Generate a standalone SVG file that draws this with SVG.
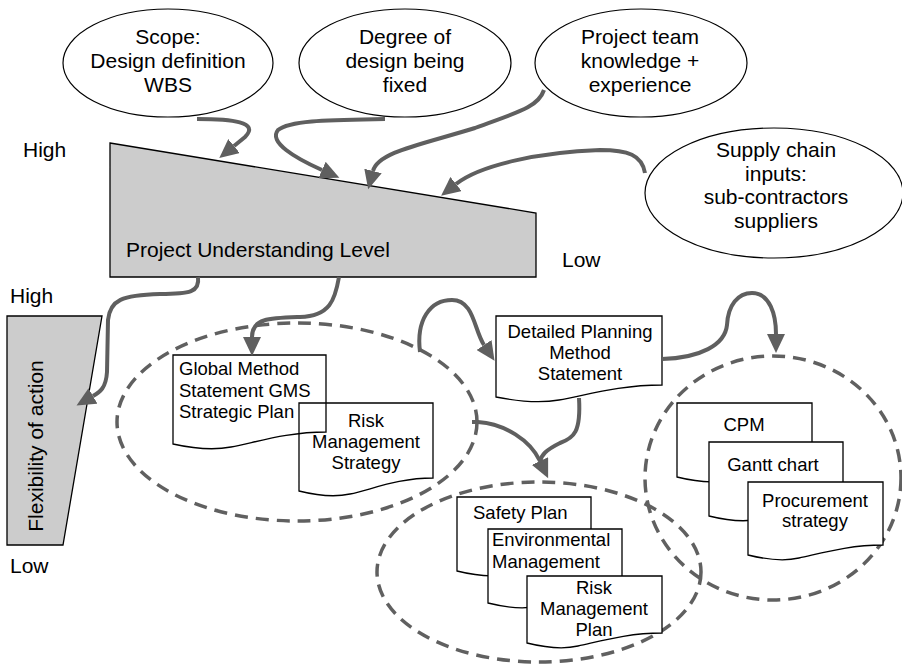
<svg xmlns="http://www.w3.org/2000/svg" width="902" height="664" viewBox="0 0 902 664">
<style>
text{font-family:"Liberation Sans",Arial,sans-serif;fill:#000}
.big{font-size:21px}
.doc{font-size:18.5px}
.mid{text-anchor:middle}
.oval{fill:#fff;stroke:#000;stroke-width:1.2}
.shape{fill:#cccccc;stroke:#000;stroke-width:1.3}
.dash{fill:none;stroke:#606060;stroke-width:3.5;stroke-dasharray:13 8}
.d{fill:#fff;stroke:#000;stroke-width:1.3}
.dn{fill:none;stroke:#000;stroke-width:1.3}
.c{fill:none;stroke:#5f5f5f;stroke-width:4}
</style>
<defs>
<marker id="ah" markerUnits="userSpaceOnUse" markerWidth="20" markerHeight="18" refX="0" refY="9" orient="auto" viewBox="0 0 20 18">
<path d="M0,0 L19,9 L0,18 Z" fill="#5f5f5f"/>
</marker>
</defs>
<rect width="902" height="664" fill="#fff"/>

<g id="scope"><ellipse class="oval" cx="168" cy="63" rx="105" ry="54"/>
<text class="big mid" x="168" y="44">Scope:</text><text class="big mid" x="168" y="68">Design definition</text><text class="big mid" x="168" y="92">WBS</text></g>
<g id="degree"><ellipse class="oval" cx="405" cy="63" rx="106" ry="54"/>
<text class="big mid" x="405" y="44">Degree of</text><text class="big mid" x="405" y="68">design being</text><text class="big mid" x="405" y="92">fixed</text></g>
<g id="team"><ellipse class="oval" cx="641" cy="63" rx="106" ry="54"/>
<text class="big mid" x="640" y="44">Project team</text><text class="big mid" x="640" y="68">knowledge +</text><text class="big mid" x="640" y="92">experience</text></g>
<g id="supply"><ellipse class="oval" cx="774" cy="193" rx="129" ry="65"/>
<text class="big mid" x="776" y="157">Supply chain</text><text class="big mid" x="776" y="181">inputs:</text><text class="big mid" x="776" y="204">sub-contractors</text><text class="big mid" x="776" y="228">suppliers</text></g>

<g id="understanding"><polygon class="shape" points="110,143 536,213 536,277 110,277"/>
<text class="big" x="126" y="257">Project Understanding Level</text></g>
<text class="big" x="23" y="157">High</text>
<text class="big" x="562" y="267">Low</text>

<g id="flexibility"><polygon class="shape" points="7,316 102,316 63,545 7,545"/>
<text class="big mid" transform="translate(43,446) rotate(-90)" x="0" y="0">Flexibility of action</text></g>
<text class="big" x="10" y="303">High</text>
<text class="big" x="10" y="573">Low</text>

<g id="groups">
<ellipse class="dash" cx="297" cy="422" rx="180" ry="99"/>
<ellipse class="dash" cx="539" cy="572" rx="162" ry="90"/>
<ellipse class="dash" cx="773" cy="478" rx="128" ry="122"/>
</g>

<g id="gms"><path class="dn" d="M173,355 H326 V432 C288,432 257,442 231,447 C211,451 191,448 173,444 Z"/>
<text class="doc" x="179" y="375">Global Method</text><text class="doc" x="179" y="397">Statement GMS</text><text class="doc" x="179" y="418">Strategic Plan</text></g>
<g id="riskstrategy"><path class="dn" d="M299,403 H433 V478 C399,478 373,489 350,494 C332,498 315,495 299,491 Z"/>
<text class="doc mid" x="366" y="427">Risk</text><text class="doc mid" x="366" y="448">Management</text><text class="doc mid" x="366" y="469">Strategy</text></g>
<g id="detailed"><path class="d" d="M496,316 H662 V385 C620,385 587,395 559,400 C537,404 516,401 496,397 Z"/>
<text class="doc mid" x="580" y="338">Detailed Planning</text><text class="doc mid" x="580" y="359">Method</text><text class="doc mid" x="580" y="380">Statement</text></g>
<g id="cpm"><path class="d" d="M677,403 H812 V465 C778,465 751,475 728,480 C711,484 693,481 677,477 Z"/>
<text class="doc mid" x="744" y="431">CPM</text></g>
<g id="gantt"><path class="d" d="M709,442 H843 V504 C809,504 783,514 760,519 C742,523 725,520 709,516 Z"/>
<text class="doc mid" x="773" y="471">Gantt chart</text></g>
<g id="procurement"><path class="d" d="M748,482 H883 V545 C849,545 822,553 799,558 C782,562 764,559 748,555 Z"/>
<text class="doc mid" x="815" y="507">Procurement</text><text class="doc mid" x="815" y="527">strategy</text></g>
<g id="safety"><path class="d" d="M457,497 H591 V559 C557,559 531,569 508,574 C491,578 473,575 457,571 Z"/>
<text class="doc" x="473" y="519">Safety Plan</text></g>
<g id="environmental"><path class="d" d="M488,529 H622 V591 C588,591 562,601 539,606 C522,610 504,607 488,603 Z"/>
<text class="doc" x="492" y="546">Environmental</text><text class="doc" x="492" y="568">Management</text></g>
<g id="riskplan"><path class="d" d="M527,576 H662 V633 C628,633 601,641 578,646 C561,650 543,647 527,643 Z"/>
<text class="doc mid" x="594" y="594">Risk</text><text class="doc mid" x="594" y="615">Management</text><text class="doc mid" x="594" y="636">Plan</text></g>

<g id="connectors">
<path class="c" marker-end="url(#ah)" d="M197,119 C232,119 260,122 245,137 L234,146"/>
<path class="c" marker-end="url(#ah)" d="M385,119 C330,120 290,120 278,130 C268,142 295,158 322,170"/>
<path class="c" marker-end="url(#ah)" d="M544,90 C538,108 515,113 475,128 C420,145 378,152 373,171"/>
<path class="c" marker-end="url(#ah)" d="M645,173 C642,155 628,150 600,150 C540,152 480,165 456,184"/>
<path class="c" marker-end="url(#ah)" d="M198,277 C200,292 190,294 160,294 C122,295 110,300 108,320 L107,372 C106,388 100,392 93,396"/>
<path class="c" marker-end="url(#ah)" d="M339,277 C335,300 330,316 300,317 C270,318 252,318 252,337"/>
<path class="c" marker-end="url(#ah)" d="M420,352 C416,320 430,300 452,300 C474,300 474,330 484,345"/>
<path class="c" marker-end="url(#ah)" d="M472,422 L478,422 C505,424 530,440 540,461"/>
<path class="c" d="M579,398 C581,432 574,438 560,443 C546,450 541,455 540,462"/>
<path class="c" marker-end="url(#ah)" d="M662,359 C700,358 725,345 727,325 C728,305 738,293 752,293 C770,293 776,315 776,334"/>
</g>
</svg>
